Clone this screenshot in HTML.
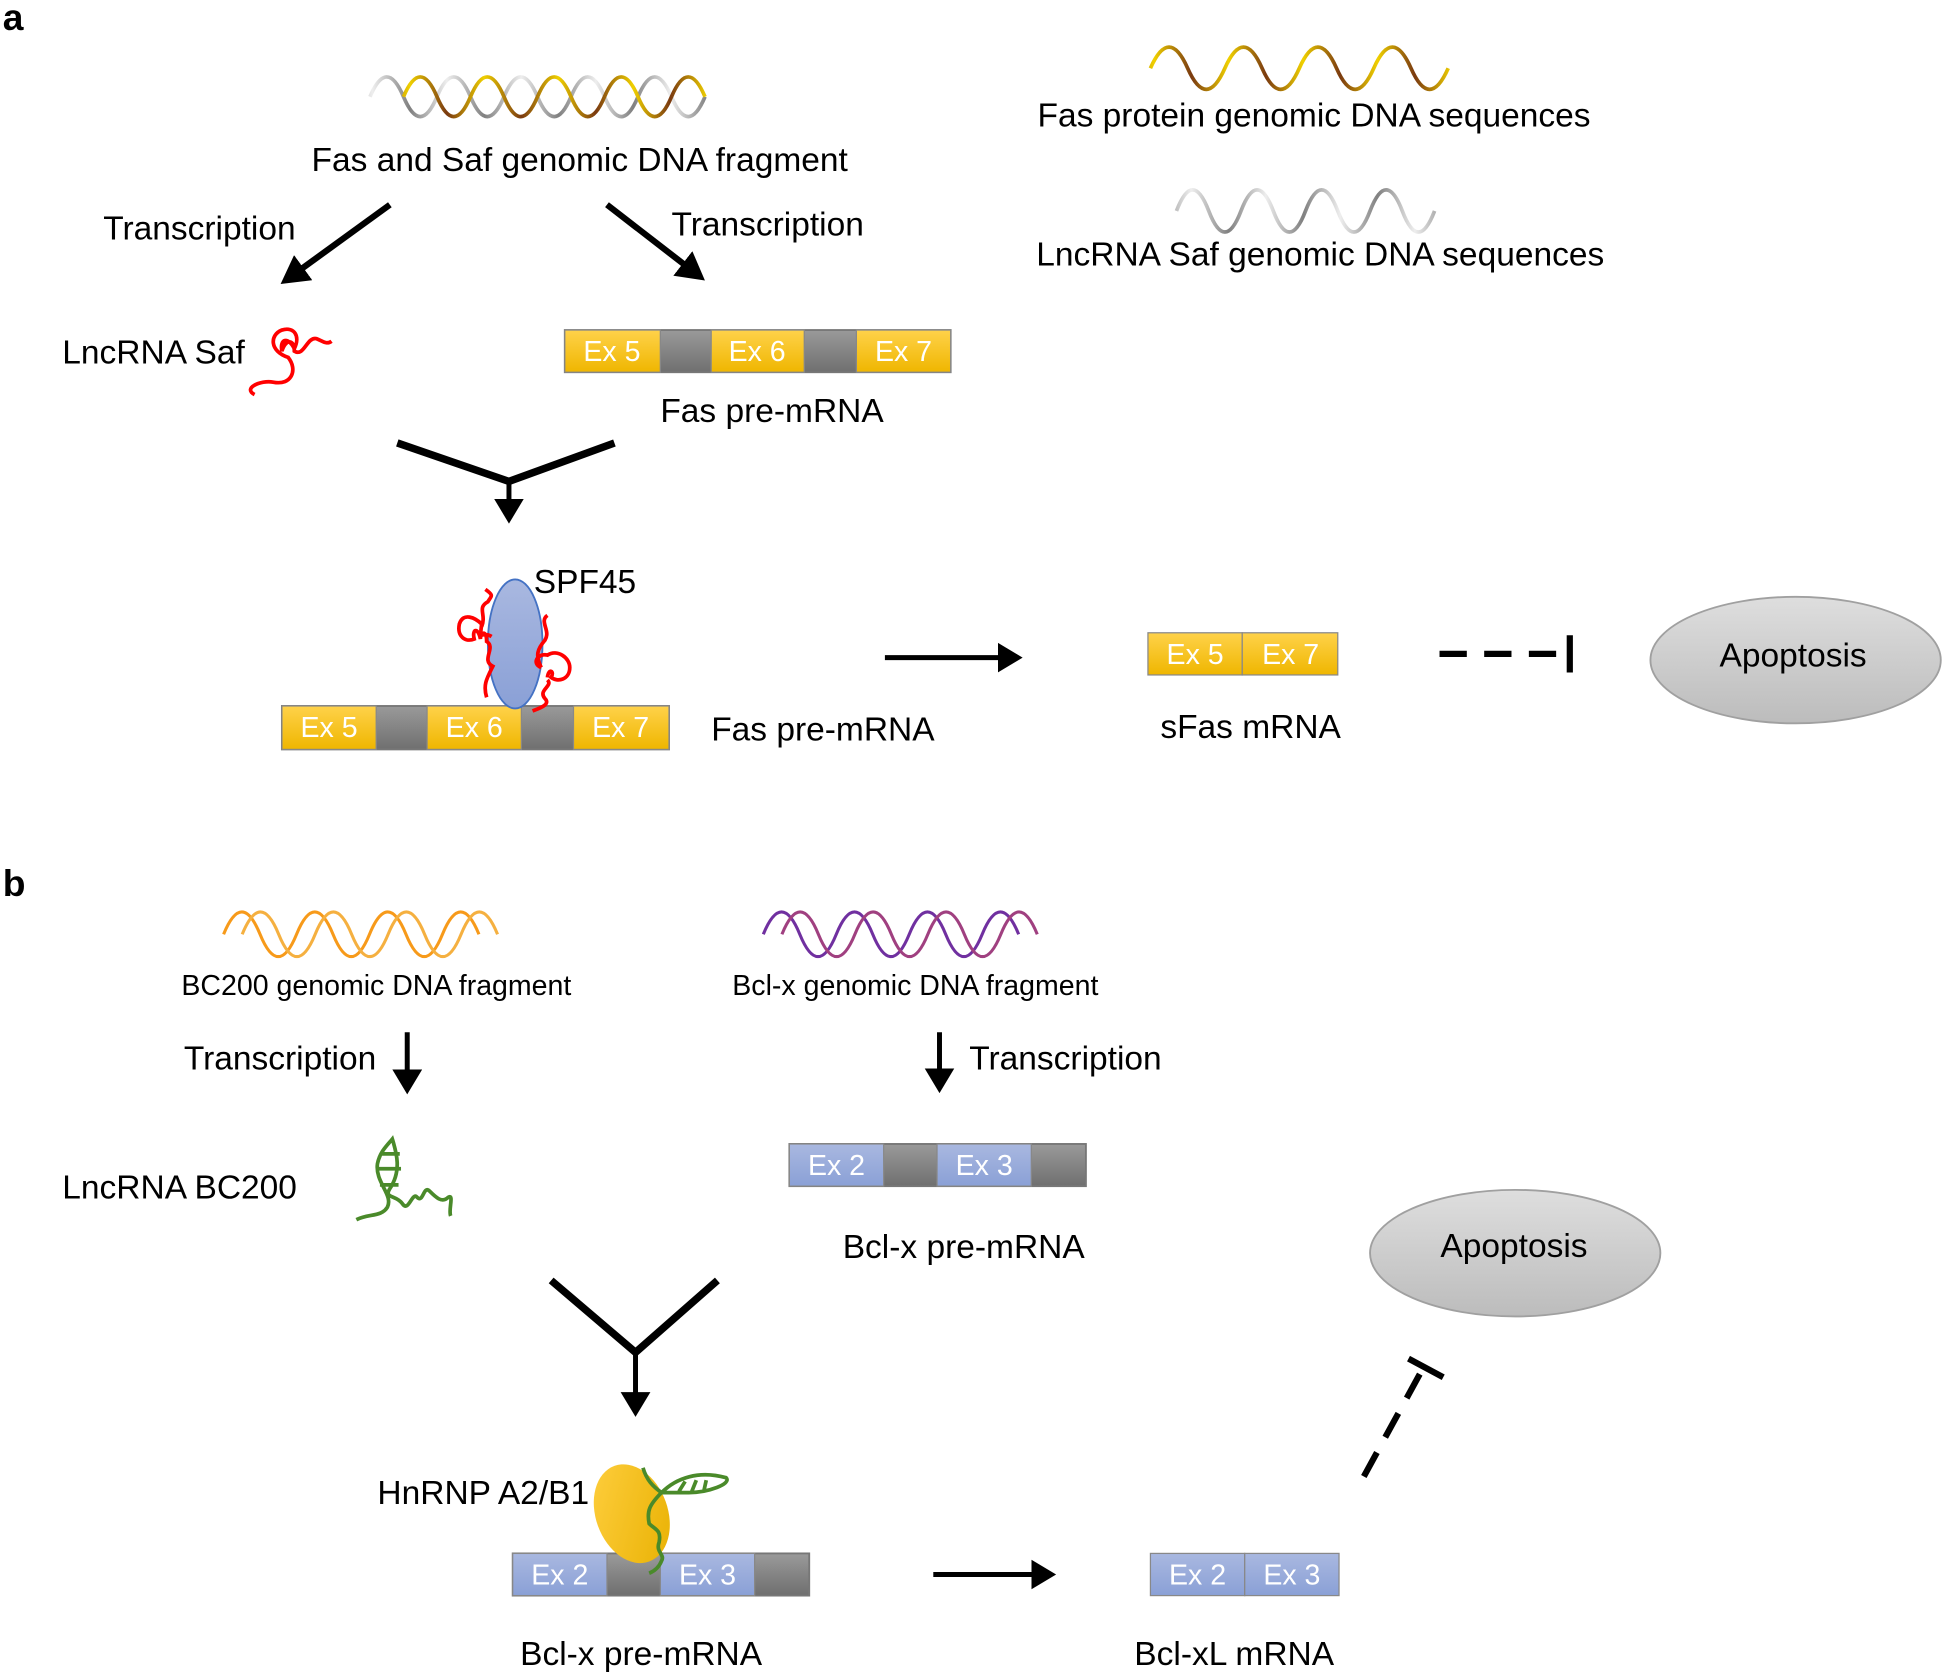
<!DOCTYPE html>
<html><head><meta charset="utf-8"><style>html,body{margin:0;padding:0;background:#fff}svg{display:block}text{font-family:"Liberation Sans",Arial,sans-serif}</style></head>
<body>
<svg width="1946" height="1675" viewBox="0 0 1568 1350" xmlns="http://www.w3.org/2000/svg">
<defs>
<linearGradient id="yl" x1="0" y1="0" x2="0" y2="1"><stop offset="0" stop-color="#ffd24a"/><stop offset="1" stop-color="#efb600"/></linearGradient>
<linearGradient id="gr" x1="0" y1="0" x2="0" y2="1"><stop offset="0" stop-color="#9a9a9a"/><stop offset="1" stop-color="#6f6f6f"/></linearGradient>
<linearGradient id="bl" x1="0" y1="0" x2="0" y2="1"><stop offset="0" stop-color="#a9b8e0"/><stop offset="1" stop-color="#8aa0d6"/></linearGradient>
<linearGradient id="ap" x1="0" y1="0" x2="0" y2="1"><stop offset="0" stop-color="#dedede"/><stop offset="1" stop-color="#bcbcbc"/></linearGradient>
<linearGradient id="sp" x1="0" y1="0" x2="0" y2="1"><stop offset="0" stop-color="#a9b8e0"/><stop offset="1" stop-color="#8aa0d6"/></linearGradient>
<linearGradient id="hn" x1="0" y1="0" x2="1" y2="1"><stop offset="0" stop-color="#ffcf40"/><stop offset="1" stop-color="#e8b000"/></linearGradient>
<linearGradient id="gw" x1="0" y1="0" x2="30" y2="0" gradientUnits="userSpaceOnUse" spreadMethod="reflect"><stop offset="0" stop-color="#7a3a10"/><stop offset="1" stop-color="#f0d000"/></linearGradient>
<linearGradient id="gg" x1="0" y1="0" x2="30" y2="0" gradientUnits="userSpaceOnUse" spreadMethod="reflect"><stop offset="0" stop-color="#eeeeee"/><stop offset="1" stop-color="#808080"/></linearGradient>
<marker id="ah" markerWidth="6" markerHeight="6" refX="4" refY="3" orient="auto" markerUnits="strokeWidth"><path d="M0,0 L5,3 L0,6 z" fill="#000"/></marker>
<marker id="ah2" markerWidth="5" markerHeight="5" refX="3.5" refY="2.5" orient="auto" markerUnits="strokeWidth"><path d="M0,0 L4.5,2.5 L0,5 z" fill="#000"/></marker>
</defs>

<!-- a -->
<text x="2" y="24" font-size="30" font-weight="bold">a</text>
<path d="M298,78 q13.5,-32 27,0 t27,0 t27,0 t27,0 t27,0 t27,0 t27,0 t27,0 t27,0 t27,0" fill="none" stroke="url(#gg)" stroke-width="3"/>
<path d="M325,78 q13.5,-32 27,0 t27,0 t27,0 t27,0 t27,0 t27,0 t27,0 t27,0 t27,0" fill="none" stroke="url(#gw)" stroke-width="3"/>
<text x="467" y="138" font-size="27" text-anchor="middle">Fas and Saf genomic DNA fragment</text>
<line x1="314" y1="165" x2="230" y2="226" stroke="#000" stroke-width="5" marker-end="url(#ah2)"/>
<line x1="489" y1="165" x2="564" y2="223" stroke="#000" stroke-width="5" marker-end="url(#ah2)"/>
<text x="83" y="193" font-size="27">Transcription</text>
<text x="541" y="190" font-size="27">Transcription</text>
<text x="50" y="293" font-size="27">LncRNA Saf</text>
<path d="M205,318 c-10,-5 5,-12 15,-10 c15,3 20,-10 12,-20 c-15,-5 -15,-18 -5,-22 c10,-3 15,5 10,15 c-5,-10 -12,-8 -10,2 c3,-10 10,-10 10,0 c8,5 10,-12 18,-10 c5,2 8,5 12,2" fill="none" stroke="#f00" stroke-width="3"/>

<g font-size="23" fill="#fff" text-anchor="middle">
<rect x="455" y="266" width="311" height="34" fill="url(#gr)" stroke="#777" stroke-width="1.5"/>
<rect x="455" y="266" width="77" height="34" fill="url(#yl)" stroke="#888"/><text x="493" y="291">Ex 5</text>
<rect x="573" y="266" width="75" height="34" fill="url(#yl)" stroke="#888"/><text x="610" y="291">Ex 6</text>
<rect x="690" y="266" width="76" height="34" fill="url(#yl)" stroke="#888"/><text x="728" y="291">Ex 7</text>
</g>
<text x="532" y="340" font-size="27">Fas pre-mRNA</text>
<polyline points="320,357 410,388 495,357" fill="none" stroke="#000" stroke-width="6"/>
<line x1="410" y1="388" x2="410" y2="418" stroke="#000" stroke-width="4" marker-end="url(#ah)"/>

<g font-size="23" fill="#fff" text-anchor="middle">
<rect x="227" y="569" width="312" height="35" fill="url(#gr)" stroke="#777" stroke-width="1.5"/>
<rect x="227" y="569" width="76" height="35" fill="url(#yl)" stroke="#888"/><text x="265" y="594">Ex 5</text>
<rect x="344" y="569" width="76" height="35" fill="url(#yl)" stroke="#888"/><text x="382" y="594">Ex 6</text>
<rect x="462" y="569" width="77" height="35" fill="url(#yl)" stroke="#888"/><text x="500" y="594">Ex 7</text>
</g>
<ellipse cx="415" cy="519" rx="22" ry="52" fill="url(#sp)" stroke="#4472c4" stroke-width="1.5"/>
<text x="430" y="478" font-size="27">SPF45</text>
<path d="M396,513 c-8,-5 -10,5 -8,-10 c-5,-5 -15,-10 -18,0 c-2,10 5,15 12,12 c-2,-8 3,-10 5,0 c0,-5 5,-8 5,2 c8,5 -5,15 5,20 c-5,10 -8,15 -5,25 M388,505 c4,-10 -4,-15 5,-20 c3,-5 5,-5 -2,-10" fill="none" stroke="#f00" stroke-width="3"/>
<path d="M436,538 c-8,-3 -3,-12 5,-10 c8,-5 18,2 18,10 c0,10 -10,12 -15,8 c3,-5 -2,-8 -3,0 M436,538 c-5,-10 -3,-15 3,-22 c5,-8 -5,-15 2,-20 M441,548 c5,5 -8,8 -2,15 c5,5 -5,8 -10,10" fill="none" stroke="#f00" stroke-width="3"/>
<text x="573" y="597" font-size="27">Fas pre-mRNA</text>
<line x1="713" y1="530" x2="820" y2="530" stroke="#000" stroke-width="4" marker-end="url(#ah)"/>
<g font-size="23" fill="#fff" text-anchor="middle">
<rect x="925" y="510" width="76" height="34" fill="url(#yl)" stroke="#888"/><text x="963" y="535">Ex 5</text>
<rect x="1001" y="510" width="77" height="34" fill="url(#yl)" stroke="#888"/><text x="1040" y="535">Ex 7</text>
</g>
<text x="935" y="595" font-size="27">sFas mRNA</text>
<line x1="1160" y1="527" x2="1262" y2="527" stroke="#000" stroke-width="5" stroke-dasharray="22,14"/>
<line x1="1265" y1="512" x2="1265" y2="542" stroke="#000" stroke-width="5"/>
<ellipse cx="1447" cy="532" rx="117" ry="51" fill="url(#ap)" stroke="#a0a0a0" stroke-width="1.5"/>
<text x="1445" y="537" font-size="27" text-anchor="middle">Apoptosis</text>

<path d="M927,55 q15,-34 30,0 t30,0 t30,0 t30,0 t30,0 t30,0 t30,0 t30,0" fill="none" stroke="url(#gw)" stroke-width="3"/>
<text x="836" y="102" font-size="27">Fas protein genomic DNA sequences</text>
<path d="M948,170 q13,-34 26,0 t26,0 t26,0 t26,0 t26,0 t26,0 t26,0 t26,0" fill="none" stroke="url(#gg)" stroke-width="3"/>
<text x="835" y="214" font-size="27">LncRNA Saf genomic DNA sequences</text>

<!-- b -->
<text x="2" y="722" font-size="30" font-weight="bold">b</text>
<path d="M180,753 q14.7,-36 29.4,0 t29.4,0 t29.4,0 t29.4,0 t29.4,0 t29.4,0 t29.4,0" fill="none" stroke="#f79a1a" stroke-width="2.5"/>
<path d="M195,753 q14.7,-36 29.4,0 t29.4,0 t29.4,0 t29.4,0 t29.4,0 t29.4,0 t29.4,0" fill="none" stroke="#f5b040" stroke-width="2.5"/>
<text x="146" y="802" font-size="23">BC200 genomic DNA fragment</text>
<path d="M615,753 q14.7,-36 29.4,0 t29.4,0 t29.4,0 t29.4,0 t29.4,0 t29.4,0 t29.4,0" fill="none" stroke="#7030a0" stroke-width="2.5"/>
<path d="M630,753 q14.7,-36 29.4,0 t29.4,0 t29.4,0 t29.4,0 t29.4,0 t29.4,0 t29.4,0" fill="none" stroke="#a04080" stroke-width="2.5"/>
<text x="590" y="802" font-size="23">Bcl-x genomic DNA fragment</text>
<text x="148" y="862" font-size="27">Transcription</text>
<line x1="328" y1="832" x2="328" y2="878" stroke="#000" stroke-width="4" marker-end="url(#ah)"/>
<line x1="757" y1="832" x2="757" y2="877" stroke="#000" stroke-width="4" marker-end="url(#ah)"/>
<text x="781" y="862" font-size="27">Transcription</text>
<text x="50" y="966" font-size="27">LncRNA BC200</text>
<path d="M287,983 c10,-5 20,-2 25,-10 c5,-10 -10,-20 -8,-35 c2,-10 8,-15 12,-20 c3,10 8,25 -2,40 c-5,8 5,5 10,12 c5,8 8,-10 12,-5 c5,5 5,-10 10,-5 c5,5 10,10 15,5 c5,-3 0,10 2,15 M306,930 l16,0 M305,942 l18,0 M306,955 l15,0" fill="none" stroke="#4a8a2a" stroke-width="3"/>
<g font-size="23" fill="#fff" text-anchor="middle">
<rect x="636" y="922" width="239" height="34" fill="url(#gr)" stroke="#777" stroke-width="1.5"/>
<rect x="636" y="922" width="76" height="34" fill="url(#bl)" stroke="#888"/><text x="674" y="947">Ex 2</text>
<rect x="755" y="922" width="76" height="34" fill="url(#bl)" stroke="#888"/><text x="793" y="947">Ex 3</text>
</g>
<text x="679" y="1014" font-size="27">Bcl-x pre-mRNA</text>
<polyline points="444,1032 512,1090 578,1032" fill="none" stroke="#000" stroke-width="6"/>
<line x1="512" y1="1090" x2="512" y2="1138" stroke="#000" stroke-width="4" marker-end="url(#ah)"/>
<text x="304" y="1212" font-size="27">HnRNP A2/B1</text>
<g font-size="23" fill="#fff" text-anchor="middle">
<rect x="413" y="1252" width="239" height="34" fill="url(#gr)" stroke="#777" stroke-width="1.5"/>
<rect x="413" y="1252" width="76" height="34" fill="url(#bl)" stroke="#888"/><text x="451" y="1277">Ex 2</text>
<rect x="532" y="1252" width="76" height="34" fill="url(#bl)" stroke="#888"/><text x="570" y="1277">Ex 3</text>
</g>
<ellipse cx="509" cy="1220" rx="29" ry="41" transform="rotate(-20 509 1220)" fill="url(#hn)"/>
<path d="M518,1183 c3,10 8,15 15,20 c-10,10 -12,15 -10,25 c5,5 10,5 8,15 c-3,8 5,10 2,15 c-2,5 -5,8 -10,10 M533,1203 c12,-12 30,-18 52,-12 c5,5 -15,12 -30,12 c-10,0 -18,0 -22,0 M547,1202 l5,-8 M557,1203 l4,-10 M567,1202 l2,-9" fill="none" stroke="#4a8a2a" stroke-width="3"/>
<text x="419" y="1342" font-size="27">Bcl-x pre-mRNA</text>
<line x1="752" y1="1269" x2="847" y2="1269" stroke="#000" stroke-width="4" marker-end="url(#ah)"/>
<g font-size="23" fill="#fff" text-anchor="middle">
<rect x="927" y="1252" width="76" height="34" fill="url(#bl)" stroke="#888"/><text x="965" y="1277">Ex 2</text>
<rect x="1003" y="1252" width="76" height="34" fill="url(#bl)" stroke="#888"/><text x="1041" y="1277">Ex 3</text>
</g>
<text x="914" y="1342" font-size="27">Bcl-xL mRNA</text>
<line x1="1099" y1="1190" x2="1146" y2="1104" stroke="#000" stroke-width="5" stroke-dasharray="22,14"/>
<line x1="1135" y1="1095" x2="1163" y2="1110" stroke="#000" stroke-width="5"/>
<ellipse cx="1221" cy="1010" rx="117" ry="51" fill="url(#ap)" stroke="#a0a0a0" stroke-width="1.5"/>
<text x="1220" y="1013" font-size="27" text-anchor="middle">Apoptosis</text>
</svg>
</body></html>
